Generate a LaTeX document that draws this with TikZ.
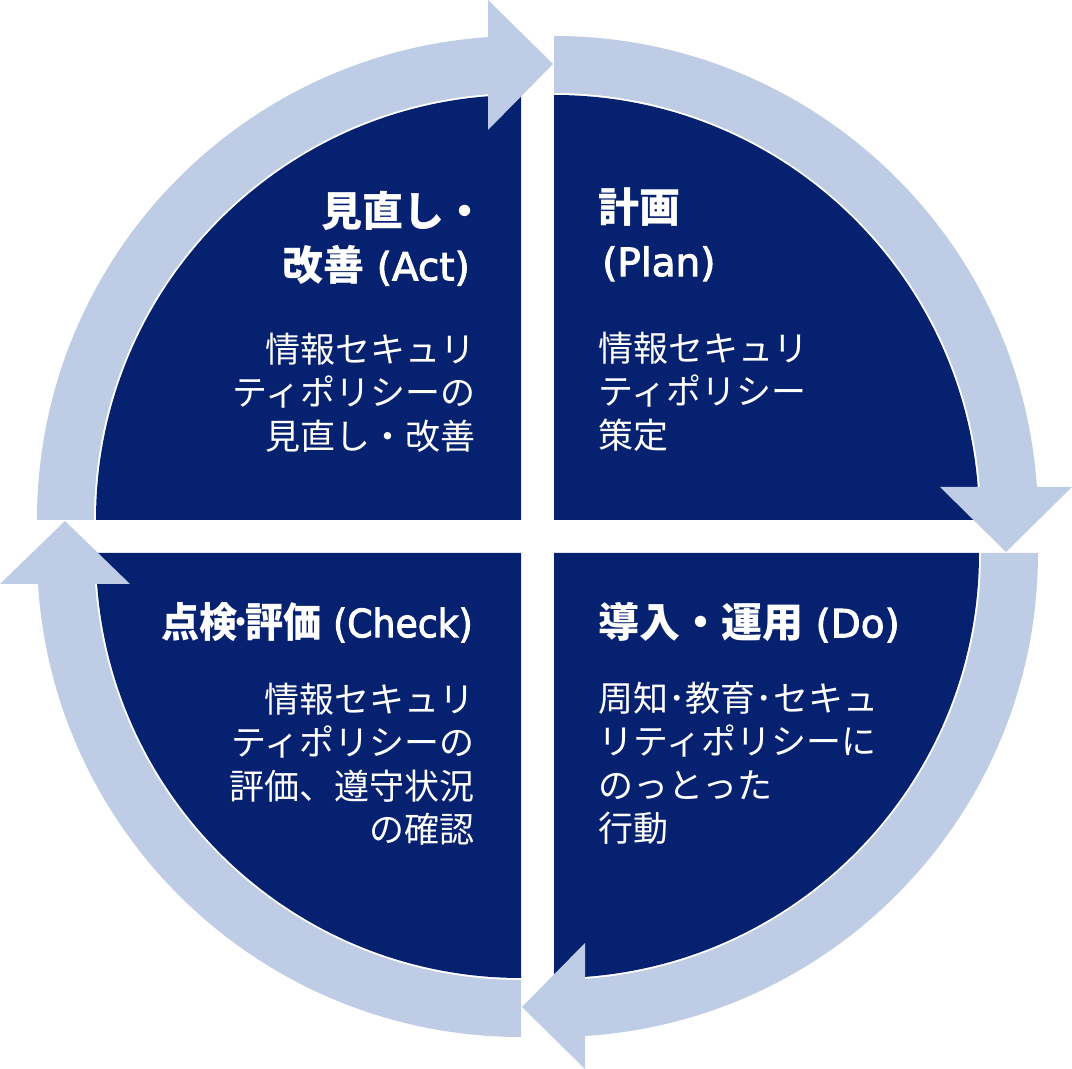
\documentclass[tikz,border=0pt]{standalone}
\usepackage{fontspec}
\setmainfont{Noto Sans CJK JP}
\newfontfamily\latinhead{DejaVu Sans}[Scale=0.95,FakeBold=2.5]
\definecolor{navy}{HTML}{062170}
\definecolor{ringblue}{HTML}{BFCCE6}
\begin{document}
\begin{tikzpicture}[x=1pt,y=1pt,
  sector/.style={fill=navy},
  ringseg/.style={fill=ringblue},
  head/.style={text=white,font=\fontsize{41}{54}\selectfont\bfseries,inner sep=0pt},
  body/.style={text=white,font=\fontsize{35}{43.3}\selectfont,inner sep=0pt}]
\useasboundingbox (0,0) rectangle (1072,1069);
% navy quarter sectors
\fill[sector] (554,549) -- (554,974) arc[start angle=90,end angle=0,radius=425] -- cycle;
\fill[sector] (521,549) -- (96,549) arc[start angle=180,end angle=90,radius=425] -- cycle;
\fill[sector] (521,516) -- (521,91) arc[start angle=270,end angle=180,radius=425] -- cycle;
\fill[sector] (554,516) -- (979,516) arc[start angle=0,end angle=-90,radius=425] -- cycle;
% ring segments
\fill[ringseg] (554,1033) arc[start angle=90,end angle=2,radius=484] -- ++(182:57) arc[start angle=2,end angle=90,radius=427] -- cycle;
\fill[ringseg] (940,582) -- (1072,582) -- (1006,517) -- cycle;
\fill[ringseg] (37,549) arc[start angle=180,end angle=92,radius=484] -- ++(272:57) arc[start angle=92,end angle=180,radius=427] -- cycle;
\fill[ringseg] (488,1069) -- (488,939) -- (553,1005) -- cycle;
\fill[ringseg] (1038,516) arc[start angle=0,end angle=-88,radius=484] -- ++(92:57) arc[start angle=-88,end angle=0,radius=427] -- cycle;
\fill[ringseg] (585,126) -- (585,0) -- (522,62) -- cycle;
\fill[ringseg] (521,32) arc[start angle=270,end angle=182,radius=484] -- ++(2:57) arc[start angle=182,end angle=270,radius=427] -- cycle;
\fill[ringseg] (0,485) -- (130,485) -- (65,548) -- cycle;
% texts
\node[head,anchor=north west,align=left] (planH) at (598,882) {計画\\\kern4pt{\mdseries\latinhead(Plan)}};
\node[body,anchor=north west,align=left] (planB) at (598,737) {情報セキュリ\\ティポリシー\\策定};
\node[head,anchor=north east,align=right] (actH) at (470,878) {見直し・\kern-16pt\\改善{\mdseries\latinhead\ (Act)}};
\node[body,anchor=north east,align=right] (actB) at (476,736) {情報セキュリ\\ティポリシーの\\見直し・改善};
\node[head,anchor=north east] (checkH) at (473,467) {\scalebox{0.93}[1]{点検\kern-6pt･\kern-6pt評価{\mdseries\latinhead\ (Check)}}};
\node[body,anchor=north east,align=right] (checkB) at (475,386) {情報セキュリ\\ティポリシーの\\評価、遵守状況\\の確認};
\node[head,anchor=north west,align=left] (doH) at (598,467) {導入・運用{\mdseries\latinhead\ (Do)}};
\node[body,anchor=north west,align=left] (doB) at (598,387) {周知･教育･セキュ\\リティポリシーに\\のっとった\\行動};
\end{tikzpicture}
\end{document}
